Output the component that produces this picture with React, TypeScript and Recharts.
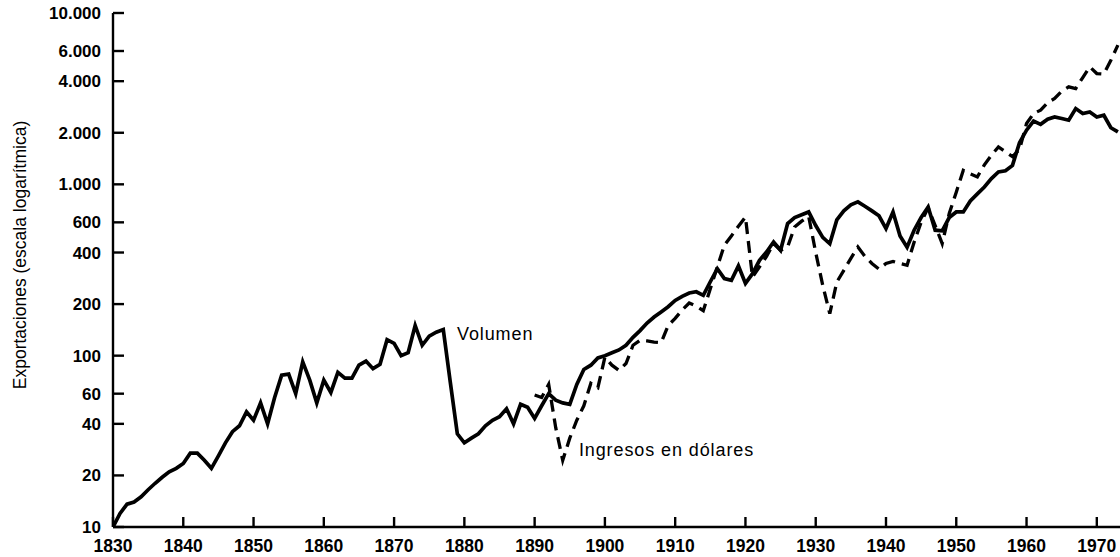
import React from 'react';
import { LineChart, Line, XAxis, YAxis, ReferenceDot } from 'recharts';

// ---- data ----
const firstYear = 1830;
const volumen: number[] = [
  10, 12, 13.6, 14, 15, 16.5, 18, 19.5, 21, 22, // 1830-1839
  23.5, 27, 27, 24.5, 22, 26, 31, 36, 39, 47, // 1840-1849
  42, 53, 40, 57, 77, 78, 60, 92, 72, 53, // 1850-1859
  72, 61, 80, 74, 74, 88, 93, 84, 89, 124, // 1860-1869
  118, 100, 104, 150, 115, 130, 137, 142, 70, 35, // 1870-1879
  31, 33, 35, 39, 42, 44, 49, 40, 52, 50, // 1880-1889
  43, 51, 60, 55, 53, 52, 68, 83, 88, 97, // 1890-1899
  100, 104, 108, 115, 128, 140, 155, 168, 180, 193, // 1900-1909
  210, 222, 232, 236, 225, 270, 322, 282, 275, 334, // 1910-1919
  264, 301, 360, 403, 461, 412, 590, 640, 665, 690, // 1920-1929
  575, 490, 450, 620, 700, 760, 790, 745, 700, 655, // 1930-1939
  552, 690, 500, 430, 540, 640, 738, 540, 535, 640, // 1940-1949
  690, 690, 800, 880, 965, 1080, 1180, 1200, 1290, 1750, // 1950-1959
  2070, 2340, 2240, 2400, 2474, 2420, 2366, 2768, 2589, 2647, // 1960-1969
  2474, 2531, 2140, 2023, // 1970-1973
];

const ingresosStart = 1890;
const ingresos: number[] = [
  59, 57, 68, 38, 24.5, 33, 42, 51, 69, 65, // 1890-1899
  98, 88, 82, 90, 115, 123, 122, 120, 119, 150, // 1900-1909
  165, 185, 203, 195, 183, 246, 330, 441, 500, 570, // 1910-1919
  645, 288, 330, 380, 451, 412, 431, 564, 610, 650, // 1920-1929
  400, 257, 176, 269, 315, 370, 431, 380, 345, 320, // 1930-1939
  345, 355, 345, 337, 459, 601, 730, 574, 451, 676, // 1940-1949
  900, 1208, 1150, 1105, 1300, 1480, 1652, 1550, 1450, 1600, // 1950-1959
  2263, 2589, 2710, 3000, 3170, 3500, 3706, 3624, 4200, 4845, // 1960-1969
  4432, 4400, 5300, 6490, // 1970-1973
];

const xTicks: number[] = [1830, 1840, 1850, 1860, 1870, 1880, 1890, 1900, 1910, 1920, 1930, 1940, 1950, 1960, 1970];
const yTicks: number[] = [10, 20, 40, 60, 100, 200, 400, 600, 1000, 2000, 4000, 6000, 10000];

const labelVolumen = { text: 'Volumen', year: 1878.95, value: 124 };
const labelIngresos = { text: 'Ingresos en dólares', year: 1896.3, value: 26 };
const yTitle = 'Exportaciones (escala logarítmica)';

const rows = volumen.map((v, i) => {
  const year = firstYear + i;
  const j = year - ingresosStart;
  return { year, volumen: v, ingresos: j >= 0 && j < ingresos.length ? ingresos[j] : null };
});

// ---- styling ----
const FONT = '"Liberation Sans", Arial, Helvetica, sans-serif';
const INK = '#000';
const fmt = (v: number) => String(v).replace(/\B(?=(\d{3})+(?!\d))/g, '.');

const YTick = (props: any) => {
  const { x, y, payload } = props;
  return (
    <g>
      <line x1={x} x2={x + 11} y1={y} y2={y} stroke={INK} strokeWidth={2.4} />
      <text x={x - 12} y={y} dy={6} textAnchor="end" fontFamily={FONT} fontSize={17} fontWeight="bold" fill={INK}>
        {fmt(payload.value)}
      </text>
    </g>
  );
};

const XTick = (props: any) => {
  const { x, y, payload } = props;
  return (
    <g>
      <line x1={x} x2={x} y1={y} y2={y - 10} stroke={INK} strokeWidth={2.4} />
      <text x={x} y={y + 25} textAnchor="middle" fontFamily={FONT} fontSize={17.5} fontWeight="bold" fill={INK}>
        {payload.value}
      </text>
    </g>
  );
};

const YTitle = (props: any) => {
  const vb = props.viewBox || { x: 0, y: 13, width: 113, height: 514 };
  const cx = vb.x + 20;
  const cy = vb.y + vb.height / 2 - 15;
  return (
    <text
      x={cx}
      y={cy}
      transform={`rotate(-90, ${cx}, ${cy})`}
      textAnchor="middle"
      dominantBaseline="central"
      fontFamily={FONT}
      fontSize={17.5}
      fill={INK}
    >
      {yTitle}
    </text>
  );
};

const annotation = (text: string) => (props: any) => (
  <text x={props.cx} y={props.cy} fontFamily={FONT} fontSize={18} letterSpacing={0.9} fill={INK}>
    {text}
  </text>
);

export default function App() {
  return (
    <div style={{ position: 'absolute', left: 0, top: 0, width: 1120, height: 557, background: '#fff' }}>
      <LineChart width={1120} height={557} data={rows} margin={{ top: 13, right: 0, bottom: 0, left: 0 }}>
        <XAxis
          dataKey="year"
          type="number"
          domain={[1830, 1973.3]}
          ticks={xTicks}
          allowDataOverflow
          height={30}
          tickSize={0}
          tickMargin={0}
          tickLine={false}
          axisLine={{ stroke: INK, strokeWidth: 2.4 }}
          tick={<XTick />}
          interval={0}
        />
        <YAxis
          type="number"
          scale="log"
          domain={[10, 10000]}
          ticks={yTicks}
          allowDataOverflow
          width={113}
          tickSize={0}
          tickMargin={0}
          tickLine={false}
          axisLine={{ stroke: INK, strokeWidth: 2.4 }}
          tick={<YTick />}
          interval={0}
          label={(p: any) => <YTitle {...p} />}
        />
        <Line
          dataKey="volumen"
          type="linear"
          stroke={INK}
          strokeWidth={3.7}
          dot={false}
          activeDot={false}
          isAnimationActive={false}
        />
        <Line
          dataKey="ingresos"
          type="linear"
          stroke={INK}
          strokeWidth={3.3}
          strokeDasharray="12 7"
          dot={false}
          activeDot={false}
          connectNulls={false}
          isAnimationActive={false}
        />
        <ReferenceDot
          x={labelVolumen.year}
          y={labelVolumen.value}
          r={0}
          ifOverflow="visible"
          shape={annotation(labelVolumen.text)}
        />
        <ReferenceDot
          x={labelIngresos.year}
          y={labelIngresos.value}
          r={0}
          ifOverflow="visible"
          shape={annotation(labelIngresos.text)}
        />
      </LineChart>
    </div>
  );
}
